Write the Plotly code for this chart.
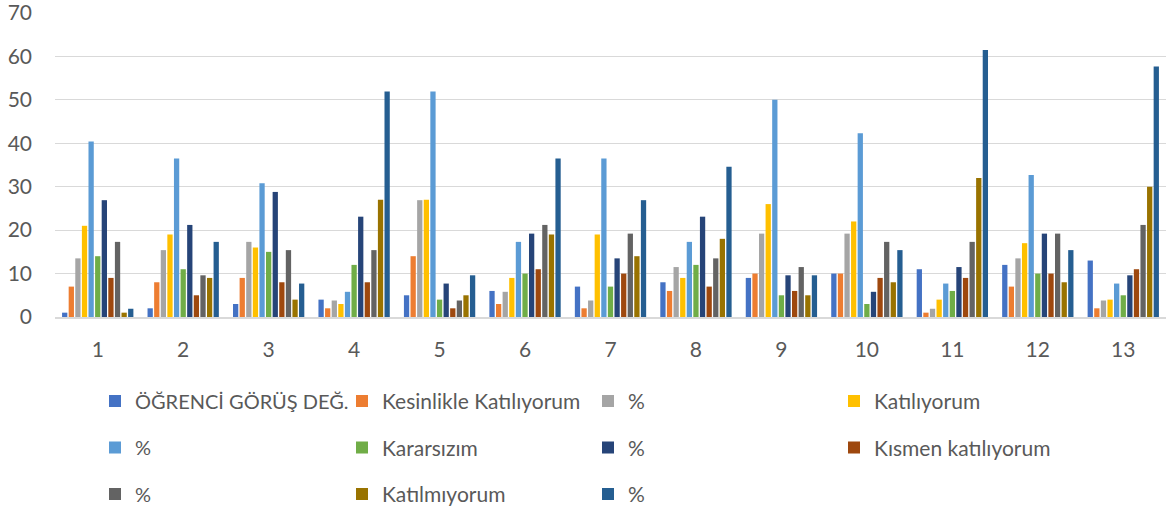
import plotly.graph_objects as go

categories = [str(i) for i in range(1, 14)]

ogrenci = [1, 2, 3, 4, 5, 6, 7, 8, 9, 10, 11, 12, 13]
kesinlikle = [7, 8, 9, 2, 14, 3, 2, 6, 10, 10, 1, 7, 2]
kesinlikle_pct = [13.5, 15.4, 17.3, 3.8, 26.9, 5.8, 3.8, 11.5, 19.2, 19.2, 1.9, 13.5, 3.8]
katiliyorum = [21, 19, 16, 3, 27, 9, 19, 9, 26, 22, 4, 17, 4]
katiliyorum_pct = [40.4, 36.5, 30.8, 5.8, 51.9, 17.3, 36.5, 17.3, 50.0, 42.3, 7.7, 32.7, 7.7]
kararsizim = [14, 11, 15, 12, 4, 10, 7, 12, 5, 3, 6, 10, 5]
kararsizim_pct = [26.9, 21.2, 28.8, 23.1, 7.7, 19.2, 13.5, 23.1, 9.6, 5.8, 11.5, 19.2, 9.6]
kismen = [9, 5, 8, 8, 2, 11, 10, 7, 6, 9, 9, 10, 11]
kismen_pct = [17.3, 9.6, 15.4, 15.4, 3.8, 21.2, 19.2, 13.5, 11.5, 17.3, 17.3, 19.2, 21.2]
katilmiyorum = [1, 9, 4, 27, 5, 19, 14, 18, 5, 8, 32, 8, 30]
katilmiyorum_pct = [1.9, 17.3, 7.7, 51.9, 9.6, 36.5, 26.9, 34.6, 9.6, 15.4, 61.5, 15.4, 57.7]

series_names = ["ÖĞRENCİ GÖRÜŞ DEĞ.", "Kesinlikle Katılıyorum", "%", "Katılıyorum", "%",
                "Kararsızım", "%", "Kısmen katılıyorum", "%", "Katılmıyorum", "%"]
series_values = [ogrenci, kesinlikle, kesinlikle_pct, katiliyorum, katiliyorum_pct,
                 kararsizim, kararsizim_pct, kismen, kismen_pct, katilmiyorum, katilmiyorum_pct]
colors = ["#4472C4", "#ED7D31", "#A5A5A5", "#FFC000", "#5B9BD5", "#70AD47",
          "#264478", "#9E480E", "#636363", "#997300", "#255E91"]

legend_ids = ["legend", "legend2", "legend3", "legend4"]

FONT = "Lato"
TXT = "#595959"
FS_TICK = 21

fig = go.Figure()
for i, (name, vals, col) in enumerate(zip(series_names, series_values, colors)):
    fig.add_trace(go.Bar(
        x=categories, y=vals, name=name,
        marker=dict(color=col, line=dict(width=0)),
        legend=legend_ids[i % 4],
        legendgroup="g%d" % i,
    ))

L, R, T, B = 55, 2, 13, 194.5
W, H = 1168, 512
pw = W - L - R
ph = H - T - B

def px_to_paper_x(px):
    return (px - L) / pw

def px_to_paper_y(py):
    return (H - B - py) / ph

col_px = [95, 342, 588, 834]
col_fs = [20, 21, 21, 21]
col_gap = [17.5, 16.2, 16.2, 16.2]
legend_top = 382

layout_legends = {}
for lid, cx, fs, gap in zip(legend_ids, col_px, col_fs, col_gap):
    layout_legends[lid] = dict(
        x=px_to_paper_x(cx), y=px_to_paper_y(legend_top - (fs - 20) * 0.65),
        xanchor="left", yanchor="top", orientation="v",
        font=dict(family=FONT, size=fs, color=TXT),
        bgcolor="rgba(0,0,0,0)", borderwidth=0,
        tracegroupgap=gap, itemclick=False, itemdoubleclick=False,
    )

fig.update_layout(
    width=W, height=H,
    margin=dict(l=L, r=R, t=T, b=B, pad=0, autoexpand=False),
    paper_bgcolor="white", plot_bgcolor="white",
    barmode="group", bargap=0.15, bargroupgap=0.2,
    font=dict(family=FONT, size=FS_TICK, color=TXT),
    **layout_legends,
)
fig.update_yaxes(range=[0, 70], dtick=10, showgrid=True, gridcolor="#d9d9d9", gridwidth=1,
                 zeroline=False, showline=False, ticks="", ticklabelstandoff=22,
                 automargin=False, ticklabeloverflow="allow",
                 tickfont=dict(family=FONT, size=FS_TICK, color=TXT))
fig.update_xaxes(showgrid=False, showline=True, linecolor="#d9d9d9", linewidth=1.5,
                 ticks="", ticklabelstandoff=13, automargin=False, ticklabeloverflow="allow",
                 tickfont=dict(family=FONT, size=FS_TICK, color=TXT))

fig.write_html("out.html", config={"displayModeBar": False},
               post_script="document.body.style.margin='0';document.body.style.overflow='hidden';")
